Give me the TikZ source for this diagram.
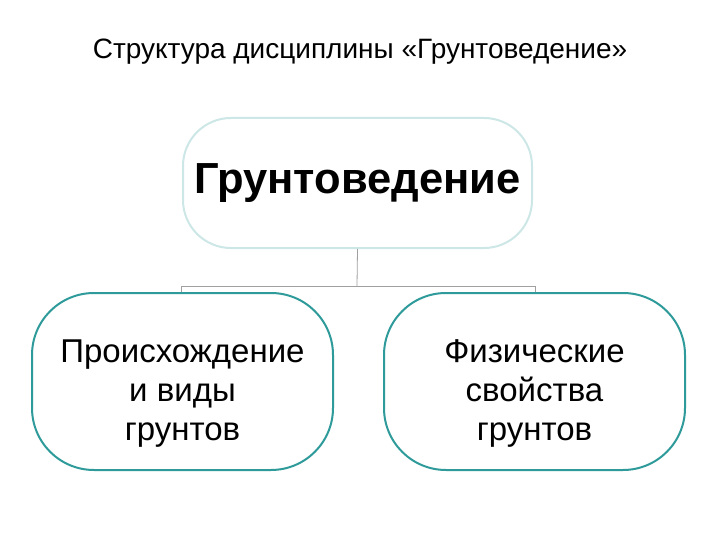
\documentclass[tikz,border=0pt]{standalone}
\usepackage{fontspec}
\setmainfont{Liberation Sans}
\definecolor{lightteal}{HTML}{CDE6E6}
\definecolor{teal2}{HTML}{2E9A9A}
\definecolor{conn}{HTML}{A0A0A0}
\newcommand{\pushdown}{\rule{0pt}{46pt}}
\begin{document}
\begin{tikzpicture}[x=1pt,y=-1pt,
  topbox/.style={draw=lightteal,line width=2pt,rounded corners=48pt,minimum width=349pt,minimum height=130pt,inner sep=0pt,font=\bfseries\fontsize{43.5}{48}\selectfont},
  subbox/.style={draw=teal2,line width=2pt,rounded corners=62pt,minimum width=301pt,minimum height=177pt,inner sep=0pt,align=center,font=\fontsize{33}{39}\selectfont},
  cn/.style={draw=conn,line width=0.8pt}]
\useasboundingbox (0,0) rectangle (720,540);
\node[font=\fontsize{28}{32}\selectfont] (title) at (360,52) {Структура дисциплины «Грунтоведение»};
\node[topbox] (top) at (357.5,183) {Грунтоведение};
\node[subbox] (l) at (182.5,381.5) {\pushdown Происхождение\\и виды\\грунтов};
\node[subbox] (r) at (534.5,381.5) {\pushdown Физические\\свойства\\грунтов};
\coordinate (j) at (357,286);
\coordinate (jl) at (181,286);
\coordinate (jr) at (535,286);
\draw[cn] (top.south) -- (j);
\draw[cn] (l.north -| jl) -- (jl) -- (jr) -- (r.north -| jr);
\end{tikzpicture}
\end{document}
